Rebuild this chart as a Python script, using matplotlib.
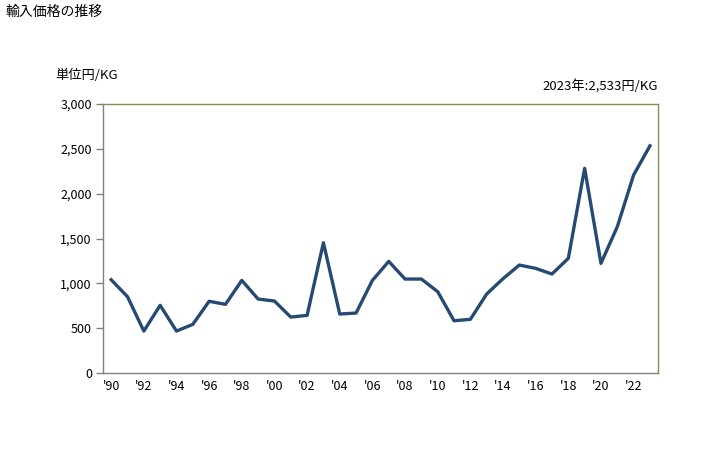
import numpy as np
import matplotlib.pyplot as plt
from matplotlib.ticker import FuncFormatter

plt.rcParams['font.family'] = ['Noto Sans CJK JP', 'DejaVu Sans']

years = np.arange(1990, 2024)
prices = [1040, 851, 468, 755, 468, 543, 800, 766, 1033, 825,
          803, 624, 643, 1453, 658, 669, 1033, 1245, 1048, 1048,
          907, 583, 599, 881, 1052, 1204, 1167, 1104, 1279, 2282,
          1223, 1631, 2208, 2533]
tick_years = np.arange(1990, 2024, 2)
tick_labels = ["'%02d" % (y % 100) for y in tick_years]

title = '輸入価格の推移'
unit = '単位円/KG'
latest = '2023年:2,533円/KG'

fig = plt.figure(figsize=(7.28, 4.5), dpi=100)
ax = fig.add_axes([0.1415, 0.171, 0.7625, 0.598])

ax.plot(years, prices, color='#264a73', linewidth=2.4, solid_joinstyle='round')

ax.set_xlim(1989.5, 2023.5)
ax.set_ylim(0, 3000)
ax.set_yticks(np.arange(0, 3001, 500))
ax.yaxis.set_major_formatter(FuncFormatter(lambda v, p: '{:,.0f}'.format(v)))
ax.set_xticks(tick_years)
ax.set_xticklabels(tick_labels)

ax.tick_params(axis='y', length=5, width=1, color='#808080', labelsize=9, pad=3)
ax.tick_params(axis='x', length=0, labelsize=9, pad=5)

for s in ['left', 'bottom']:
    ax.spines[s].set_color('#808080')
for s in ['top', 'right']:
    ax.spines[s].set_color('#938953')
for s in ax.spines.values():
    s.set_linewidth(1)

fig.text(5 / 728, 1 - 12 / 450, title, fontsize=10, va='center', ha='left')
fig.text(55 / 728, 1 - 75 / 450, unit, fontsize=9.5, va='center', ha='left')
fig.text(658 / 728, 1 - 86 / 450, latest, fontsize=9.5, va='center', ha='right')

fig.savefig('out.png', dpi=100)
